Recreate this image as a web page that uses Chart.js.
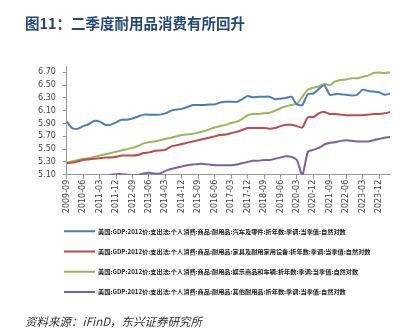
<!DOCTYPE html>
<html>
<head>
<meta charset="utf-8">
<script src="https://cdn.jsdelivr.net/npm/chart.js@4"></script>
<style>
  body { margin: 0; background: #fff; }
  #wrap { position: relative; width: 405px; height: 334px; }
  #title { position: absolute; left: 25px; top: 12px; font: bold 14.5px "Noto Sans CJK SC", sans-serif; color: #25487a; white-space: nowrap; }
  #source { position: absolute; left: 25px; top: 313px; font: italic 11.5px "Noto Sans CJK SC", sans-serif; color: #333; white-space: nowrap; }
  canvas { position: absolute; left: 0; top: 0; }
</style>
</head>
<body>
<div id="wrap">
  <canvas id="myChart" width="405" height="334"></canvas>
  <div id="title">图11：二季度耐用品消费有所回升</div>
  <div id="source">资料来源：iFinD，东兴证券研究所</div>
</div>
<script>
const quarters = [
  "2009-09", "2009-12", "2010-03", "2010-06", "2010-09", "2010-12",
  "2011-03", "2011-06", "2011-09", "2011-12", "2012-03", "2012-06",
  "2012-09", "2012-12", "2013-03", "2013-06", "2013-09", "2013-12",
  "2014-03", "2014-06", "2014-09", "2014-12", "2015-03", "2015-06",
  "2015-09", "2015-12", "2016-03", "2016-06", "2016-09", "2016-12",
  "2017-03", "2017-06", "2017-09", "2017-12", "2018-03", "2018-06",
  "2018-09", "2018-12", "2019-03", "2019-06", "2019-09", "2019-12",
  "2020-03", "2020-06", "2020-09", "2020-12", "2021-03", "2021-06",
  "2021-09", "2021-12", "2022-03", "2022-06", "2022-09", "2022-12",
  "2023-03", "2023-06", "2023-09", "2023-12", "2024-03", "2024-06",
];

const seriesNames = [
  "美国:GDP:2012价:支出法:个人消费:商品:耐用品:汽车及零件:折年数:季调:当季值:自然对数",
  "美国:GDP:2012价:支出法:个人消费:商品:耐用品:家具及耐用家用设备:折年数:季调:当季值:自然对数",
  "美国:GDP:2012价:支出法:个人消费:商品:耐用品:娱乐商品和车辆:折年数:季调:当季值:自然对数",
  "美国:GDP:2012价:支出法:个人消费:商品:耐用品:其他耐用品:折年数:季调:当季值:自然对数",
];

const autos = [
  5.93, 5.83, 5.82, 5.86, 5.89, 5.94, 5.93, 5.88, 5.88, 5.92,
  5.96, 5.96, 5.98, 6.01, 6.04, 6.04, 6.04, 6.04, 6.06, 6.10,
  6.12, 6.13, 6.16, 6.19, 6.19, 6.19, 6.20, 6.20, 6.23, 6.24,
  6.24, 6.24, 6.28, 6.33, 6.31, 6.32, 6.32, 6.32, 6.28, 6.29,
  6.30, 6.32, 6.20, 6.19, 6.36, 6.37, 6.44, 6.50, 6.35, 6.36,
  6.36, 6.35, 6.34, 6.35, 6.43, 6.41, 6.40, 6.39, 6.35, 6.37,
];
const furniture = [
  5.28, 5.29, 5.31, 5.33, 5.34, 5.35, 5.36, 5.37, 5.37, 5.38,
  5.40, 5.40, 5.40, 5.41, 5.44, 5.45, 5.47, 5.48, 5.49, 5.54,
  5.56, 5.58, 5.60, 5.62, 5.64, 5.66, 5.68, 5.70, 5.72, 5.73,
  5.75, 5.77, 5.80, 5.83, 5.83, 5.83, 5.83, 5.82, 5.83, 5.86,
  5.88, 5.88, 5.86, 5.84, 6.00, 6.00, 6.06, 6.08, 6.05, 6.05,
  6.04, 6.03, 6.03, 6.03, 6.03, 6.04, 6.05, 6.05, 6.06, 6.08,
];
const recreation = [
  5.29, 5.31, 5.33, 5.35, 5.36, 5.38, 5.40, 5.42, 5.44, 5.46,
  5.48, 5.50, 5.52, 5.55, 5.59, 5.61, 5.62, 5.64, 5.66, 5.68,
  5.70, 5.72, 5.73, 5.74, 5.76, 5.78, 5.81, 5.84, 5.86, 5.88,
  5.91, 5.93, 5.97, 6.03, 6.05, 6.05, 6.06, 6.07, 6.10, 6.14,
  6.17, 6.19, 6.21, 6.32, 6.43, 6.46, 6.48, 6.52, 6.50, 6.56,
  6.58, 6.59, 6.61, 6.61, 6.63, 6.65, 6.69, 6.70, 6.69, 6.70,
];
const otherDurables = [
  4.98, 5.00, 5.01, 5.03, 5.04, 5.05, 5.06, 5.08, 5.10, 5.11,
  5.11, 5.10, 5.09, 5.10, 5.12, 5.13, 5.12, 5.12, 5.16, 5.19,
  5.21, 5.23, 5.25, 5.26, 5.27, 5.27, 5.26, 5.25, 5.25, 5.25,
  5.25, 5.26, 5.28, 5.30, 5.32, 5.32, 5.33, 5.33, 5.35, 5.37,
  5.39, 5.38, 5.33, 5.09, 5.46, 5.49, 5.52, 5.57, 5.60, 5.61,
  5.63, 5.64, 5.63, 5.62, 5.62, 5.62, 5.64, 5.66, 5.68, 5.69,
];

const yTicks = [5.1, 5.3, 5.5, 5.7, 5.9, 6.1, 6.3, 6.5, 6.7];

const colors = ["#4a7ebb", "#be4b48", "#98b954", "#7d60a0"];
const values = [autos, furniture, recreation, otherDurables];

const axisFont = { family: "DejaVu Sans", size: 8 };

// legend rows start a little right of the chart's left padding
const legendShift = {
  id: "legendShift",
  afterLayout(chart) {
    chart.legend.left += 19;
  },
};

new Chart("myChart", {
  type: "line",
  data: {
    labels: quarters,
    datasets: values.map((v, i) => ({
      label: seriesNames[i],
      data: v,
      borderColor: colors[i],
      backgroundColor: colors[i],
      borderWidth: 2,
      pointRadius: 0,
      fill: false,
      tension: 0.2,
    })),
  },
  plugins: [legendShift],
  options: {
    responsive: false,
    animation: false,
    layout: { padding: { left: 31, right: 15, top: 66, bottom: 29 } },
    plugins: {
      tooltip: { enabled: false },
      legend: {
        position: "bottom",
        align: "start",
        labels: {
          usePointStyle: true,
          pointStyle: "line",
          pointStyleWidth: 31,
          padding: 14,
          color: "#222",
          font: { family: "Noto Sans CJK SC", size: 6.2, weight: "bold" },
        },
      },
    },
    scales: {
      x: {
        grid: { drawOnChartArea: false, tickLength: 4, color: "#999" },
        border: { color: "#999" },
        afterBuildTicks: (scale) => {
          scale.ticks = scale.ticks.filter((t, i) => i % 3 === 0);
        },
        ticks: {
          autoSkip: false,
          maxRotation: 90,
          minRotation: 90,
          padding: 1,
          color: "#444",
          font: axisFont,
        },
      },
      y: {
        min: 5.1,
        max: 6.8,
        afterBuildTicks: (scale) => {
          scale.ticks = yTicks.map((v) => ({ value: v }));
        },
        grid: { drawOnChartArea: false, tickLength: 4, color: "#999" },
        border: { color: "#999" },
        ticks: {
          padding: 7,
          color: "#444",
          font: axisFont,
          callback: (v) => v.toFixed(2),
        },
      },
    },
  },
});
</script>
</body>
</html>
